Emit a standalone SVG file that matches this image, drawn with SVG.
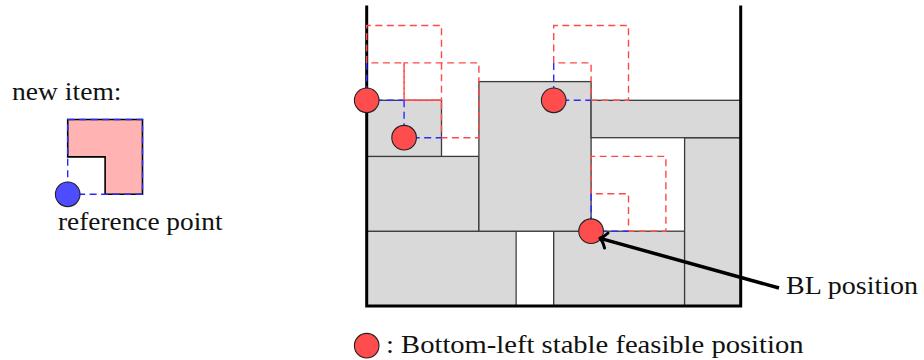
<svg xmlns="http://www.w3.org/2000/svg" width="924" height="360" viewBox="0 0 924 360">
<style>
.item{fill:#d9d9d9;stroke:#3a3a3a;stroke-width:1.3}
.gap{fill:#ffffff;stroke:#666;stroke-width:1.3}
.wall{fill:none;stroke:#000;stroke-width:3;stroke-linecap:square}
.rd{fill:none;stroke:#ff4848;stroke-width:1.4;stroke-dasharray:7,4.5}
.bd{fill:none;stroke:#2a2aff;stroke-width:1.4;stroke-dasharray:7,4.5}
.pt{fill:#ff4d4d;stroke:#222;stroke-width:1.1}
.txt{font-family:"Liberation Serif","Times New Roman",serif;font-size:25px;fill:#111}
</style>
<rect width="924" height="360" fill="#fff"/>
<g id="new-item">
<path d="M67.7,156.9 V119.5 H142.5 V194.3 H105.1 V156.9 Z" fill="#ffb3b3" stroke="#000" stroke-width="1.6"/>
<rect x="67.7" y="119.5" width="74.8" height="74.8" class="bd"/>
<circle cx="67.7" cy="194.3" r="12.3" fill="#4d4dff" stroke="#222" stroke-width="1.1"/>
<text class="txt" x="12" y="99.5" textLength="109.5" lengthAdjust="spacingAndGlyphs">new item:</text>
<text class="txt" x="58" y="229.5" textLength="164.5" lengthAdjust="spacingAndGlyphs">reference point</text>
</g>
<g id="items">
<rect id="itemA" class="item" x="366.7" y="231.2" width="149.6" height="74.8"/>
<rect id="gap" class="gap" x="516.3" y="231.2" width="37.4" height="74.8"/>
<rect id="itemB" class="item" x="553.7" y="231.2" width="130.9" height="74.8"/>
<rect id="itemC" class="item" x="684.6" y="137.7" width="56.1" height="168.3"/>
<rect id="itemD" class="item" x="366.7" y="156.4" width="112.2" height="74.8"/>
<rect id="itemE" class="item" x="478.9" y="81.6" width="112.2" height="149.6"/>
<rect id="itemF" class="item" x="591.1" y="100.3" width="149.6" height="37.4"/>
<rect id="itemG" class="item" x="366.7" y="100.3" width="74.8" height="56.1"/>
</g>
<g id="container">
<path class="wall" d="M366.7,7 V306 H740.7 V7"/>
</g>
<g id="candidates">
<path class="rd" d="M366.7,62.9 V25.5 H441.5 V100.3 H404.1 V62.9 Z"/>
<path class="bd" d="M366.7,62.9 V100.3 H404.1"/>
<path class="rd" d="M404.1,100.3 V62.9 H478.9 V137.7 H441.5 V100.3 Z"/>
<path class="bd" d="M404.1,100.3 V137.7 H441.5"/>
<path class="rd" d="M553.7,62.9 V25.5 H628.5 V100.3 H591.1 V62.9 Z"/>
<path class="bd" d="M553.7,62.9 V100.3 H591.1"/>
<path class="rd" d="M591.1,193.8 V156.4 H665.9 V231.2 H628.5 V193.8 Z"/>
<path class="bd" d="M591.1,193.8 V231.2 H628.5"/>
</g>
<g id="points">
<circle class="pt" cx="366.7" cy="100.3" r="12.3"/>
<circle class="pt" cx="404.1" cy="137.7" r="12.3"/>
<circle class="pt" cx="553.7" cy="100.3" r="12.3"/>
<circle class="pt" cx="591.1" cy="231.2" r="12.3"/>
</g>
<g id="connectors">
<path d="M779,288 L602,238.9" fill="none" stroke="#000" stroke-width="3.5"/>
<path d="M608,233 Q604,237 599.8,238.3 Q603,241.5 604.5,248" fill="none" stroke="#000" stroke-width="3" stroke-linecap="round" stroke-linejoin="round"/>
</g>
<g id="label-bl">
<text class="txt" x="786" y="294.3" textLength="132" lengthAdjust="spacingAndGlyphs">BL position</text>
</g>
<g id="legend">
<circle class="pt" cx="366.7" cy="345.7" r="12.3"/>
<text class="txt" x="386" y="353.3" textLength="417.5" lengthAdjust="spacingAndGlyphs">: Bottom-left stable feasible position</text>
</g>
</svg>
